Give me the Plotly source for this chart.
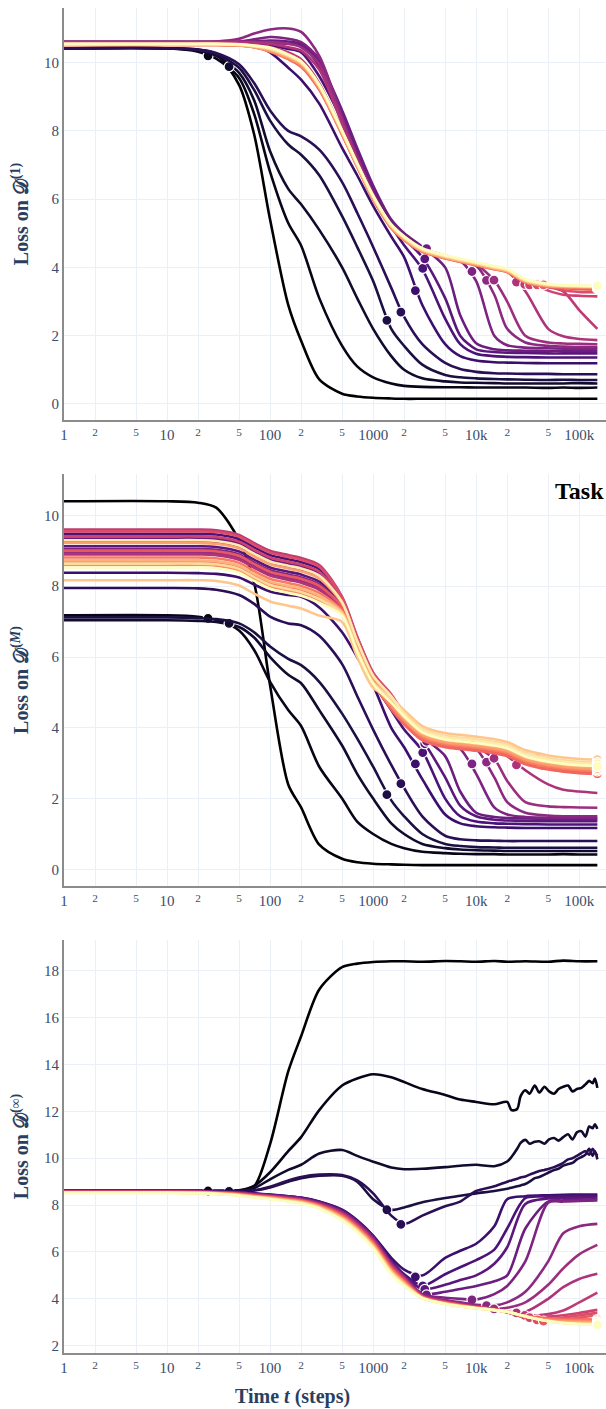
import plotly.graph_objects as go
from plotly.subplots import make_subplots
from plotly.colors import sample_colorscale

# Training steps at which every loss curve is sampled
steps = [1, 10, 20, 30, 50, 70, 100, 150, 200, 300, 500, 700, 1000, 1500, 2000,
         3000, 5000, 7000, 10000, 15000, 20000, 30000, 50000, 70000, 100000, 150000]

# Denser late steps for the noisy curves on D^(inf)
noisy_steps = [22000, 25000, 27000, 30000, 33000, 37000, 41000, 46000, 51000, 57000,
               63000, 70000, 78000, 86000, 95000, 105000, 115000, 125000, 135000,
               142000, 150000]

# Number of tasks in the pretraining mixture, one curve each
task_counts = [1, 2, 3, 4, 6, 8, 12, 16, 24, 32, 48, 64, 96, 128, 192, 256, 384,
               512, 768, 1024, 1536, 2048, 3072, 4096, 6144, 8192]

# Loss on D^(1)
loss_d1 = [
    [10.42, 10.42, 10.38, 10.25, 9.35, 7.9, 5.4, 2.9, 1.85, 0.72, 0.3, 0.22, 0.18, 0.16, 0.15, 0.15, 0.15, 0.15, 0.15, 0.15, 0.15, 0.15, 0.15, 0.15, 0.15, 0.15],
    [10.42, 10.42, 10.32, 10.12, 9.55, 8.5, 6.8, 5.3, 4.64, 3.1, 1.7, 1.1, 0.78, 0.6, 0.53, 0.5, 0.49, 0.49, 0.48, 0.48, 0.48, 0.48, 0.47, 0.48, 0.47, 0.48],
    [10.42, 10.42, 10.35, 10.2, 9.7, 8.9, 7.4, 6.3, 5.85, 5.1, 4.0, 3.1, 2.2, 1.4, 1.0, 0.75, 0.66, 0.63, 0.62, 0.61, 0.6, 0.6, 0.6, 0.6, 0.61, 0.6],
    [10.42, 10.42, 10.37, 10.25, 9.85, 9.2, 8.3, 7.6, 7.3, 6.7, 5.5, 4.6, 3.6, 2.2, 1.7, 1.15, 0.85, 0.78, 0.75, 0.73, 0.72, 0.71, 0.7, 0.71, 0.7, 0.7],
    [10.42, 10.42, 10.38, 10.28, 9.95, 9.4, 8.6, 8.0, 7.84, 7.45, 6.5, 5.6, 4.6, 3.4, 2.55, 1.75, 1.2, 1.02, 0.94, 0.9, 0.89, 0.88, 0.88, 0.87, 0.87, 0.87],
    [10.58, 10.58, 10.58, 10.57, 10.55, 10.5, 10.3, 9.85, 9.5, 8.8, 7.5, 6.7, 5.8, 4.9, 4.3, 2.9, 1.75, 1.4, 1.27, 1.22, 1.21, 1.2, 1.19, 1.19, 1.19, 1.19],
    [10.6, 10.6, 10.6, 10.6, 10.6, 10.58, 10.5, 10.4, 10.3, 9.6, 8.3, 7.3, 6.2, 5.2, 4.65, 3.95, 2.5, 1.75, 1.47, 1.4, 1.38, 1.37, 1.36, 1.36, 1.36, 1.36],
    [10.6, 10.6, 10.6, 10.6, 10.6, 10.6, 10.58, 10.55, 10.5, 9.9, 8.5, 7.4, 6.3, 5.3, 4.85, 4.3, 3.1, 2.0, 1.6, 1.52, 1.5, 1.49, 1.48, 1.48, 1.48, 1.48],
    [10.6, 10.6, 10.6, 10.6, 10.6, 10.62, 10.65, 10.62, 10.55, 10.0, 8.6, 7.5, 6.4, 5.4, 5.0, 4.6, 4.0, 2.6, 1.78, 1.6, 1.57, 1.56, 1.55, 1.55, 1.55, 1.55],
    [10.6, 10.6, 10.6, 10.6, 10.62, 10.68, 10.75, 10.7, 10.6, 10.1, 8.4, 7.3, 6.2, 5.25, 4.9, 4.55, 4.35, 4.2, 3.6, 2.0, 1.72, 1.65, 1.63, 1.62, 1.62, 1.62],
    [10.6, 10.6, 10.6, 10.62, 10.7, 10.85, 10.97, 11.0, 10.9, 10.2, 8.4, 7.2, 6.1, 5.2, 4.85, 4.5, 4.3, 4.2, 4.05, 3.2, 2.2, 1.8, 1.7, 1.68, 1.67, 1.67],
    [10.6, 10.6, 10.6, 10.6, 10.6, 10.6, 10.6, 10.55, 10.45, 9.95, 8.3, 7.2, 6.15, 5.25, 4.9, 4.52, 4.32, 4.2, 4.08, 3.62, 3.0, 2.0, 1.8, 1.77, 1.76, 1.75],
    [10.6, 10.6, 10.6, 10.6, 10.6, 10.58, 10.55, 10.45, 10.35, 9.8, 8.2, 7.1, 6.05, 5.2, 4.85, 4.5, 4.3, 4.2, 4.1, 3.98, 3.88, 3.3, 2.2, 1.98, 1.9, 1.87],
    [10.58, 10.58, 10.58, 10.58, 10.56, 10.52, 10.45, 10.3, 10.1, 9.4, 8.0, 7.05, 6.05, 5.2, 4.85, 4.5, 4.3, 4.2, 4.1, 3.98, 3.9, 3.52, 3.42, 3.3, 2.75, 2.2],
    [10.55, 10.55, 10.55, 10.55, 10.53, 10.5, 10.42, 10.27, 10.07, 9.35, 7.95, 7.0, 6.0, 5.18, 4.84, 4.5, 4.3, 4.2, 4.1, 3.99, 3.92, 3.6, 3.32, 3.2, 3.17, 3.15],
    [10.55, 10.55, 10.55, 10.55, 10.53, 10.48, 10.36, 10.15, 9.95, 9.27, 7.92, 6.98, 6.03, 5.18, 4.83, 4.49, 4.29, 4.19, 4.09, 3.97, 3.89, 3.61, 3.45, 3.33, 3.28, 3.27],
    [10.55, 10.55, 10.55, 10.55, 10.52, 10.47, 10.35, 10.14, 9.93, 9.26, 7.91, 6.97, 6.02, 5.17, 4.82, 4.48, 4.28, 4.18, 4.08, 3.96, 3.88, 3.6, 3.46, 3.4, 3.36, 3.35],
    [10.52, 10.52, 10.52, 10.52, 10.5, 10.45, 10.32, 10.1, 9.88, 9.2, 7.88, 6.95, 6.0, 5.15, 4.8, 4.46, 4.26, 4.16, 4.06, 3.95, 3.86, 3.56, 3.43, 3.4, 3.39, 3.38],
    [10.52, 10.52, 10.52, 10.52, 10.5, 10.45, 10.33, 10.12, 9.92, 9.24, 7.9, 6.96, 6.01, 5.16, 4.81, 4.47, 4.27, 4.17, 4.07, 3.95, 3.87, 3.57, 3.44, 3.42, 3.41, 3.4],
    [10.52, 10.52, 10.52, 10.52, 10.5, 10.45, 10.34, 10.13, 9.93, 9.26, 7.91, 6.97, 6.02, 5.17, 4.82, 4.48, 4.28, 4.18, 4.08, 3.96, 3.88, 3.58, 3.45, 3.43, 3.42, 3.41],
    [10.53, 10.53, 10.53, 10.53, 10.51, 10.46, 10.36, 10.16, 9.96, 9.28, 7.93, 6.98, 6.03, 5.19, 4.84, 4.49, 4.29, 4.19, 4.09, 3.97, 3.89, 3.59, 3.46, 3.44, 3.43, 3.42],
    [10.53, 10.53, 10.53, 10.53, 10.52, 10.47, 10.38, 10.18, 9.98, 9.3, 7.95, 7.0, 6.05, 5.2, 4.85, 4.5, 4.3, 4.2, 4.1, 3.98, 3.9, 3.6, 3.47, 3.45, 3.44, 3.43],
    [10.54, 10.54, 10.54, 10.54, 10.52, 10.48, 10.4, 10.2, 10.0, 9.32, 7.97, 7.02, 6.07, 5.22, 4.87, 4.52, 4.32, 4.22, 4.12, 4.0, 3.92, 3.62, 3.49, 3.46, 3.45, 3.44],
    [10.54, 10.54, 10.54, 10.54, 10.53, 10.49, 10.41, 10.21, 10.01, 9.33, 7.98, 7.03, 6.08, 5.23, 4.88, 4.53, 4.33, 4.23, 4.13, 4.01, 3.93, 3.63, 3.5, 3.47, 3.45, 3.44],
    [10.55, 10.55, 10.55, 10.55, 10.53, 10.49, 10.42, 10.22, 10.02, 9.34, 7.99, 7.04, 6.09, 5.24, 4.89, 4.54, 4.34, 4.24, 4.14, 4.02, 3.94, 3.64, 3.5, 3.47, 3.46, 3.45],
    [10.55, 10.55, 10.55, 10.55, 10.54, 10.5, 10.44, 10.24, 10.04, 9.36, 8.01, 7.06, 6.11, 5.26, 4.91, 4.56, 4.36, 4.26, 4.16, 4.04, 3.96, 3.66, 3.52, 3.48, 3.47, 3.46],
]

# Loss on D^(M)
loss_dm = [
    [10.4, 10.4, 10.36, 10.22, 9.3, 8.1, 5.2, 2.4, 1.75, 0.7, 0.3, 0.2, 0.16, 0.14, 0.13, 0.12, 0.12, 0.12, 0.12, 0.12, 0.12, 0.12, 0.12, 0.12, 0.12, 0.12],
    [7.18, 7.18, 7.14, 7.05, 6.75, 6.2, 5.3, 4.5, 4.05, 2.9, 2.0, 1.35, 1.0, 0.72, 0.6, 0.5, 0.46, 0.44, 0.43, 0.43, 0.42, 0.42, 0.42, 0.43, 0.42, 0.42],
    [7.04, 7.04, 7.02, 6.99, 6.85, 6.55, 6.0, 5.5, 5.26, 4.5, 3.5, 2.7, 2.0, 1.3, 1.0, 0.72, 0.6, 0.56, 0.54, 0.53, 0.52, 0.52, 0.52, 0.52, 0.52, 0.52],
    [7.12, 7.12, 7.1, 7.07, 6.95, 6.7, 6.3, 5.95, 5.77, 5.3, 4.4, 3.7, 2.9, 1.95, 1.5, 1.0, 0.72, 0.66, 0.63, 0.62, 0.61, 0.61, 0.61, 0.61, 0.61, 0.61],
    [7.95, 7.95, 7.94, 7.9, 7.75, 7.5, 7.14, 6.95, 6.9, 6.6, 5.8, 4.9, 3.95, 2.95, 2.3, 1.5, 0.95, 0.85, 0.82, 0.81, 0.8, 0.8, 0.8, 0.8, 0.8, 0.8],
    [8.38, 8.38, 8.37, 8.35, 8.25, 8.05, 7.85, 7.75, 7.7, 7.4, 6.7, 6.0, 5.2, 4.0, 3.45, 2.55, 1.55, 1.3, 1.22, 1.19, 1.18, 1.17, 1.17, 1.17, 1.17, 1.17],
    [9.48, 9.48, 9.48, 9.46, 9.33, 9.1, 8.88, 8.76, 8.68, 8.48, 7.64, 6.45, 5.3, 4.5, 3.95, 3.35, 2.0, 1.5, 1.35, 1.3, 1.29, 1.28, 1.27, 1.27, 1.27, 1.27],
    [9.13, 9.13, 9.13, 9.11, 8.98, 8.75, 8.53, 8.41, 8.33, 8.13, 7.47, 6.39, 5.4, 4.6, 4.15, 3.65, 2.6, 1.8, 1.5, 1.4, 1.38, 1.37, 1.36, 1.36, 1.36, 1.36],
    [9.35, 9.35, 9.35, 9.33, 9.2, 8.97, 8.75, 8.63, 8.55, 8.35, 7.58, 6.48, 5.45, 4.7, 4.3, 3.75, 3.2, 2.2, 1.6, 1.48, 1.45, 1.44, 1.43, 1.42, 1.42, 1.42],
    [9.05, 9.05, 9.05, 9.03, 8.9, 8.67, 8.45, 8.33, 8.25, 8.05, 7.43, 6.36, 5.4, 4.75, 4.3, 3.8, 3.55, 3.4, 2.7, 1.75, 1.55, 1.48, 1.46, 1.45, 1.45, 1.45],
    [9.25, 9.25, 9.25, 9.23, 9.1, 8.87, 8.65, 8.53, 8.45, 8.25, 7.53, 6.44, 5.46, 4.8, 4.32, 3.85, 3.63, 3.55, 3.4, 2.6, 1.9, 1.6, 1.52, 1.5, 1.5, 1.5],
    [8.95, 8.95, 8.95, 8.93, 8.8, 8.57, 8.35, 8.23, 8.15, 7.95, 7.38, 6.32, 5.37, 4.76, 4.3, 3.85, 3.62, 3.55, 3.45, 3.12, 2.5, 1.9, 1.78, 1.76, 1.75, 1.74],
    [8.9, 8.9, 8.9, 8.88, 8.75, 8.52, 8.3, 8.18, 8.1, 7.9, 7.35, 6.3, 5.35, 4.75, 4.3, 3.85, 3.65, 3.6, 3.52, 3.42, 3.2, 2.8, 2.4, 2.25, 2.2, 2.16],
    [9.6, 9.6, 9.6, 9.58, 9.45, 9.22, 9.0, 8.88, 8.8, 8.6, 7.7, 6.58, 5.56, 4.9, 4.35, 3.9, 3.7, 3.65, 3.6, 3.53, 3.45, 3.2, 2.98, 2.88, 2.76, 2.68],
    [9.41, 9.41, 9.41, 9.39, 9.26, 9.03, 8.81, 8.69, 8.61, 8.41, 7.61, 6.5, 5.5, 4.83, 4.3, 3.85, 3.65, 3.6, 3.55, 3.48, 3.4, 3.17, 3.0, 2.9, 2.84, 2.8],
    [9.55, 9.55, 9.55, 9.53, 9.4, 9.17, 8.95, 8.83, 8.75, 8.55, 7.68, 6.56, 5.55, 4.95, 4.4, 3.95, 3.75, 3.7, 3.65, 3.58, 3.5, 3.27, 3.05, 2.95, 2.88, 2.85],
    [9.01, 9.01, 9.01, 8.99, 8.86, 8.63, 8.41, 8.29, 8.21, 8.01, 7.41, 6.34, 5.38, 4.62, 4.15, 3.7, 3.5, 3.45, 3.4, 3.33, 3.25, 3.02, 2.87, 2.81, 2.77, 2.75],
    [8.7, 8.7, 8.7, 8.68, 8.55, 8.32, 8.1, 7.98, 7.9, 7.7, 7.25, 6.22, 5.29, 4.52, 4.1, 3.65, 3.45, 3.4, 3.35, 3.28, 3.2, 2.97, 2.82, 2.76, 2.72, 2.7],
    [8.81, 8.81, 8.81, 8.79, 8.66, 8.43, 8.21, 8.09, 8.01, 7.81, 7.3, 6.26, 5.32, 4.62, 4.18, 3.73, 3.53, 3.48, 3.43, 3.36, 3.28, 3.05, 2.9, 2.84, 2.8, 2.78],
    [8.6, 8.6, 8.6, 8.58, 8.45, 8.22, 8.0, 7.88, 7.8, 7.6, 7.2, 6.18, 5.26, 4.62, 4.22, 3.77, 3.57, 3.52, 3.47, 3.4, 3.32, 3.09, 2.94, 2.88, 2.84, 2.82],
    [9.22, 9.22, 9.22, 9.2, 9.07, 8.84, 8.62, 8.5, 8.42, 8.22, 7.51, 6.43, 5.45, 4.75, 4.25, 3.8, 3.6, 3.55, 3.5, 3.43, 3.35, 3.12, 2.97, 2.91, 2.87, 2.85],
    [8.73, 8.73, 8.73, 8.71, 8.58, 8.35, 8.13, 8.01, 7.93, 7.73, 7.27, 6.23, 5.3, 4.72, 4.3, 3.85, 3.65, 3.6, 3.55, 3.48, 3.4, 3.17, 3.02, 2.96, 2.92, 2.9],
    [8.17, 8.17, 8.17, 8.15, 8.02, 7.79, 7.57, 7.45, 7.37, 7.17, 6.99, 6.01, 5.13, 4.84, 4.5, 4.05, 3.85, 3.8, 3.75, 3.68, 3.6, 3.37, 3.22, 3.16, 3.12, 3.1],
    [8.64, 8.64, 8.64, 8.62, 8.49, 8.26, 8.04, 7.92, 7.84, 7.64, 7.22, 6.2, 5.27, 4.83, 4.42, 3.97, 3.77, 3.72, 3.67, 3.6, 3.52, 3.29, 3.14, 3.08, 3.04, 3.02],
    [9.3, 9.3, 9.3, 9.28, 9.15, 8.92, 8.7, 8.58, 8.5, 8.3, 7.55, 6.46, 5.47, 4.89, 4.38, 3.93, 3.73, 3.68, 3.63, 3.56, 3.48, 3.25, 3.1, 3.04, 3.0, 2.98],
    [8.53, 8.53, 8.53, 8.51, 8.38, 8.15, 7.93, 7.81, 7.73, 7.53, 7.17, 6.15, 5.24, 4.71, 4.32, 3.87, 3.67, 3.62, 3.57, 3.5, 3.42, 3.19, 3.04, 2.98, 2.94, 2.92],
]

# Loss on D^(inf); the four noisy curves stop at 20k here and continue in loss_dinf_noisy
loss_dinf = [
    [8.6, 8.6, 8.6, 8.6, 8.62, 8.8, 10.6, 13.7, 15.2, 17.2, 18.15, 18.3, 18.37, 18.4, 18.4, 18.38, 18.41, 18.4, 18.38, 18.41, 18.38, 18.4, 18.38, 18.43, 18.4, 18.4],
    [8.6, 8.6, 8.6, 8.6, 8.63, 8.82, 9.4, 10.3, 10.9, 12.05, 13.1, 13.4, 13.58, 13.45, 13.25, 12.95, 12.7, 12.5, 12.4, 12.3, 12.4],
    [8.6, 8.6, 8.6, 8.6, 8.61, 8.72, 9.1, 9.5, 9.72, 10.2, 10.35, 10.1, 9.85, 9.6, 9.53, 9.55, 9.62, 9.68, 9.72, 9.66, 9.86],
    [8.6, 8.6, 8.6, 8.6, 8.6, 8.62, 8.75, 9.0, 9.15, 9.25, 9.25, 9.0, 8.25, 7.8, 7.9, 8.12, 8.3, 8.4, 8.5, 8.6, 8.7],
    [8.6, 8.6, 8.6, 8.6, 8.6, 8.63, 8.78, 9.05, 9.2, 9.3, 9.28, 9.05, 8.5, 7.55, 7.2, 7.55, 7.95, 8.15, 8.6, 8.8, 9.0],
    [8.6, 8.6, 8.6, 8.58, 8.55, 8.5, 8.45, 8.38, 8.32, 8.15, 7.8, 7.35, 6.7, 5.75, 5.25, 5.0, 5.75, 6.05, 6.35, 7.1, 8.25, 8.38, 8.42, 8.44, 8.45, 8.45],
    [8.6, 8.6, 8.6, 8.57, 8.54, 8.49, 8.44, 8.37, 8.31, 8.14, 7.78, 7.33, 6.67, 5.62, 5.05, 4.56, 5.05, 5.35, 5.65, 6.1, 7.0, 8.3, 8.36, 8.38, 8.4, 8.4],
    [8.59, 8.59, 8.59, 8.57, 8.54, 8.48, 8.43, 8.36, 8.3, 8.12, 7.76, 7.3, 6.65, 5.58, 4.98, 4.42, 4.6, 4.8, 5.0, 5.5, 6.2, 8.05, 8.28, 8.3, 8.32, 8.32],
    [8.59, 8.59, 8.59, 8.56, 8.53, 8.47, 8.42, 8.35, 8.28, 8.1, 7.73, 7.28, 6.62, 5.55, 4.95, 4.22, 4.3, 4.42, 4.55, 4.75, 5.0, 7.0, 8.15, 8.2, 8.24, 8.25],
    [8.58, 8.58, 8.58, 8.56, 8.52, 8.46, 8.41, 8.33, 8.27, 8.09, 7.71, 7.25, 6.59, 5.53, 4.95, 4.2, 4.05, 4.0, 3.97, 4.2, 4.55, 5.6, 8.1, 8.15, 8.18, 8.2],
    [8.58, 8.58, 8.58, 8.55, 8.51, 8.46, 8.4, 8.32, 8.26, 8.08, 7.69, 7.23, 6.56, 5.5, 4.92, 4.17, 3.95, 3.85, 3.75, 3.72, 3.85, 4.3, 5.6, 6.8, 7.1, 7.2],
    [8.58, 8.58, 8.57, 8.55, 8.51, 8.45, 8.39, 8.31, 8.25, 8.06, 7.67, 7.2, 6.54, 5.47, 4.9, 4.15, 3.9, 3.8, 3.68, 3.58, 3.62, 3.85, 4.6, 5.3, 5.9, 6.3],
    [8.57, 8.57, 8.57, 8.54, 8.5, 8.44, 8.38, 8.3, 8.23, 8.05, 7.64, 7.18, 6.51, 5.44, 4.88, 4.13, 3.88, 3.77, 3.66, 3.55, 3.45, 3.45, 4.0, 4.5, 4.85, 5.07],
    [8.57, 8.57, 8.56, 8.54, 8.49, 8.43, 8.37, 8.29, 8.22, 8.03, 7.62, 7.15, 6.48, 5.41, 4.85, 4.11, 3.88, 3.76, 3.66, 3.56, 3.44, 3.29, 3.35, 3.5, 3.85, 4.27],
    [8.56, 8.56, 8.56, 8.53, 8.48, 8.42, 8.36, 8.28, 8.21, 8.02, 7.6, 7.13, 6.45, 5.38, 4.83, 4.1, 3.86, 3.75, 3.65, 3.55, 3.43, 3.23, 3.25, 3.3, 3.4, 3.53],
    [8.56, 8.56, 8.55, 8.53, 8.48, 8.41, 8.35, 8.27, 8.2, 8.0, 7.58, 7.1, 6.43, 5.35, 4.8, 4.09, 3.85, 3.74, 3.64, 3.55, 3.43, 3.2, 3.12, 3.2, 3.3, 3.4],
    [8.56, 8.56, 8.55, 8.52, 8.47, 8.4, 8.34, 8.25, 8.18, 7.99, 7.55, 7.08, 6.4, 5.32, 4.78, 4.08, 3.84, 3.73, 3.63, 3.54, 3.42, 3.2, 3.06, 3.1, 3.2, 3.3],
    [8.55, 8.55, 8.54, 8.51, 8.46, 8.39, 8.33, 8.24, 8.17, 7.97, 7.53, 7.05, 6.37, 5.29, 4.75, 4.07, 3.83, 3.72, 3.63, 3.54, 3.46, 3.27, 3.18, 3.15, 3.13, 3.12],
    [8.55, 8.55, 8.54, 8.51, 8.45, 8.38, 8.32, 8.23, 8.16, 7.96, 7.51, 7.03, 6.34, 5.26, 4.73, 4.06, 3.82, 3.71, 3.62, 3.53, 3.45, 3.26, 3.13, 3.1, 3.08, 3.07],
    [8.54, 8.54, 8.53, 8.5, 8.45, 8.37, 8.31, 8.22, 8.15, 7.94, 7.49, 7.0, 6.32, 5.23, 4.7, 4.05, 3.81, 3.7, 3.62, 3.53, 3.45, 3.26, 3.1, 3.06, 3.04, 3.03],
    [8.54, 8.54, 8.53, 8.5, 8.44, 8.37, 8.3, 8.21, 8.13, 7.93, 7.46, 6.98, 6.29, 5.2, 4.68, 4.05, 3.8, 3.7, 3.61, 3.53, 3.45, 3.25, 3.08, 3.03, 3.01, 3.0],
    [8.54, 8.54, 8.52, 8.49, 8.43, 8.36, 8.29, 8.2, 8.12, 7.91, 7.44, 6.95, 6.26, 5.17, 4.65, 4.04, 3.8, 3.69, 3.61, 3.53, 3.45, 3.25, 3.06, 3.0, 2.98, 2.97],
    [8.53, 8.53, 8.52, 8.49, 8.42, 8.35, 8.28, 8.18, 8.11, 7.9, 7.42, 6.93, 6.23, 5.14, 4.63, 4.04, 3.79, 3.69, 3.6, 3.52, 3.45, 3.25, 3.05, 2.98, 2.95, 2.94],
    [8.53, 8.53, 8.51, 8.48, 8.42, 8.34, 8.27, 8.17, 8.1, 7.88, 7.4, 6.9, 6.21, 5.11, 4.6, 4.03, 3.79, 3.68, 3.6, 3.52, 3.45, 3.25, 3.05, 2.97, 2.93, 2.92],
    [8.52, 8.52, 8.5, 8.48, 8.41, 8.33, 8.26, 8.16, 8.08, 7.87, 7.37, 6.88, 6.18, 5.08, 4.58, 4.03, 3.78, 3.68, 3.6, 3.52, 3.45, 3.25, 3.05, 2.97, 2.92, 2.9],
    [8.52, 8.52, 8.5, 8.47, 8.4, 8.32, 8.25, 8.15, 8.07, 7.85, 7.35, 6.85, 6.15, 5.05, 4.55, 4.03, 3.78, 3.68, 3.6, 3.52, 3.45, 3.25, 3.05, 2.97, 2.92, 2.89],
]

# Late, noisy part of the D^(inf) curves for the fewest-task runs (on noisy_steps)
loss_dinf_noisy = {
    1: [12.05, 12.1, 12.65, 12.9, 12.75, 13.1, 12.8, 13.05, 12.85, 12.75, 12.95, 13.05, 13.1, 12.85, 12.95, 13.0, 13.15, 13.3, 13.2, 13.4, 13.0],
    2: [10.05, 10.4, 10.65, 10.78, 10.62, 10.7, 10.72, 10.62, 10.8, 10.86, 10.75, 10.9, 11.02, 10.8, 11.1, 11.15, 10.92, 11.35, 11.28, 11.45, 11.25],
    3: [8.74, 8.8, 8.84, 8.9, 9.0, 9.15, 9.2, 9.3, 9.4, 9.5, 9.55, 9.68, 9.75, 9.8, 9.95, 10.05, 10.15, 10.4, 10.1, 10.3, 9.95],
    4: [9.05, 9.12, 9.18, 9.22, 9.3, 9.38, 9.45, 9.5, 9.55, 9.62, 9.7, 9.8, 9.95, 10.0, 10.1, 10.22, 10.3, 10.15, 10.4, 10.25, 10.1],
}

# Step where the D^(inf) loss is lowest, and the three losses at that step
marker_steps = [None, 25, 40, 1360, 1860, 2570, 3030, 3170, 3300, 9100, 12600, 14900,
                24600, 29600, 33000, 39000, 45000, 150000, 150000, 150000, 150000,
                150000, 150000, 150000, 150000, 150000]
marker_d1 = [None, 10.2, 9.88, 2.45, 2.69, 3.32, 3.97, 4.25, 4.55, 3.88, 3.62, 3.63,
             3.57, 3.5, 3.49, 3.49, 3.49, 3.38, 3.4, 3.41, 3.42, 3.43, 3.44, 3.44, 3.45, 3.46]
marker_dm = [None, 7.09, 6.95, 2.11, 2.42, 2.98, 3.3, 3.55, 3.62, 2.98, 3.03, 3.14,
             2.95, 3.2, 3.1, 3.12, 2.93, 2.7, 2.78, 2.82, 2.85, 2.9, 3.1, 3.02, 2.98, 2.92]
marker_dinf = [None, 8.6, 8.58, 7.8, 7.18, 4.94, 4.55, 4.4, 4.17, 3.96, 3.71, 3.57,
               3.4, 3.29, 3.2, 3.1, 3.05, 3.12, 3.07, 3.03, 3.0, 2.97, 2.94, 2.92, 2.9, 2.89]

n_tasks = len(task_counts)
colors = sample_colorscale("Magma", [k / (n_tasks - 1) for k in range(n_tasks)])

SERIF = "Liberation Serif, DejaVu Serif, serif"
INK = "#2a3f5f"

fig = make_subplots(rows=3, cols=1)

panels = [
    (1, loss_d1, marker_d1),
    (2, loss_dm, marker_dm),
    (3, loss_dinf, marker_dinf),
]

for row, curves, marks in panels:
    for k in range(n_tasks):
        ys = list(curves[k])
        xs = steps[:len(ys)]
        if row == 3 and k in loss_dinf_noisy:
            xs = xs + noisy_steps
            ys = ys + loss_dinf_noisy[k]
        fig.add_trace(
            go.Scatter(
                x=xs, y=ys, mode="lines",
                line=dict(color=colors[k], width=2.6, shape="spline", smoothing=0.8),
                name=str(task_counts[k]), showlegend=False,
            ),
            row=row, col=1,
        )
        if marker_steps[k] is not None:
            fig.add_trace(
                go.Scatter(
                    x=[marker_steps[k]], y=[marks[k]], mode="markers",
                    marker=dict(color=colors[k], size=10, line=dict(color="white", width=1.2)),
                    name=str(task_counts[k]), showlegend=False,
                ),
                row=row, col=1,
            )

domains = [[0.6937, 1.0], [0.3472, 0.6535], [0.0, 0.3071]]
y_ranges = [[-0.47, 11.6], [-0.47, 11.17], [1.69, 19.31]]
y_titles = [
    "<b>Loss on 𝒟<sup>(1)</sup></b>",
    "<b>Loss on 𝒟<sup>(<i>M</i>)</sup></b>",
    "<b>Loss on 𝒟<sup>(∞)</sup></b>",
]

for i in range(3):
    suffix = "" if i == 0 else str(i + 1)
    fig.layout["xaxis" + suffix].update(
        type="log", range=[0, 5.26], dtick="D2",
        showline=True, linecolor="#8c8c8c", linewidth=2,
        showgrid=True, gridcolor="#EBF0F8", gridwidth=1,
        ticks="", zeroline=False, automargin=False,
        tickfont=dict(family=SERIF, size=15, color="#3b4d6b"),
    )
    fig.layout["yaxis" + suffix].update(
        domain=domains[i], range=y_ranges[i], dtick=2,
        showline=True, linecolor="#8c8c8c", linewidth=2,
        showgrid=True, gridcolor="#EBF0F8", gridwidth=1,
        ticks="", zeroline=False, automargin=False,
        tickfont=dict(family=SERIF, size=15, color="#3b4d6b"),
        title=dict(text=y_titles[i], font=dict(family=SERIF, size=20, color=INK), standoff=10),
    )

# Axis title for the shared time axis
fig.add_annotation(
    text="<b>Time <i>t</i> (steps)</b>", xref="paper", yref="paper",
    x=0.4207, y=-0.0325, xanchor="center", yanchor="middle", showarrow=False,
    font=dict(family=SERIF, size=20, color=INK),
)

# Heading of the task colour key
fig.add_annotation(
    text="<b>Task</b>", xref="paper", yref="paper",
    x=0.9022, y=0.6409, xanchor="left", yanchor="middle", showarrow=False,
    font=dict(family=SERIF, size=24, color="black"),
)

fig.update_layout(
    template="plotly_white",
    width=606, height=1409,
    margin=dict(l=64, r=0, t=8, b=56),
    paper_bgcolor="white", plot_bgcolor="white",
    showlegend=False,
)

fig.write_html("out.html")
